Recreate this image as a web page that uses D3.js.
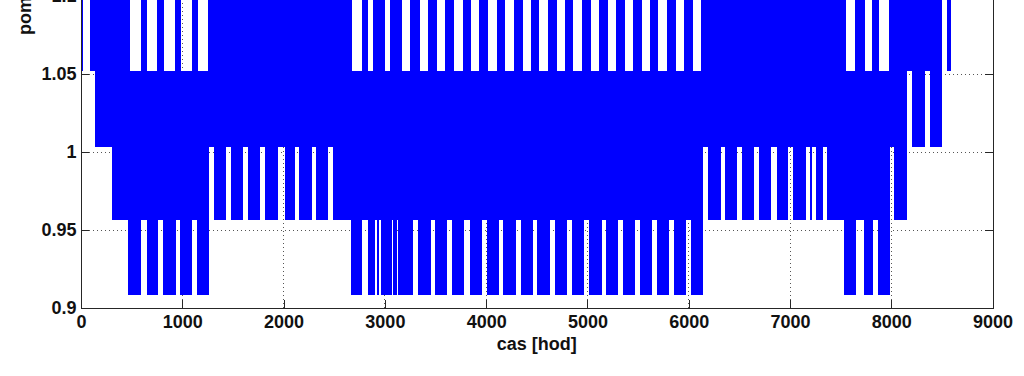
<!DOCTYPE html>
<html><head><meta charset="utf-8">
<script src="https://cdn.jsdelivr.net/npm/d3@7"></script>
<style>html,body{margin:0;padding:0;background:#fff;overflow:hidden}</style>
</head><body>
<svg id="c" width="1024" height="376"></svg>
<script>
// ---- data ----
// discrete ratio levels the hourly series steps between
const levels = [0.9083, 0.9563, 1.0033, 1.052, 1.15];
// hours [start, end] during which the series covers each band between two adjacent levels
const bandL3toTop = [[0,20],[89,484],[589,649],[753,822],[928,987],[1093,1158],[1257,2672],[2771,2836],[2885,3001],[3050,3166],[3248,3346],[3428,3511],[3593,3685],[3768,3850],[3932,4021],[4104,4186],[4274,4360],[4442,4524],[4607,4696],[4778,4860],[4949,5032],[5114,5199],[5281,5370],[5452,5535],[5617,5699],[5788,5874],[5956,6039],[6120,7552],[7641,7739],[7809,7882],[7976,8497],[8546,8588]];
const bandL2toL3 = [[138,8155],[8206,8332],[8381,8497]];
const bandL1toL2 = [[303,1266],[1313,1431],[1478,1602],[1652,1767],[1816,1948],[2014,2113],[2155,2277],[2320,2441],[2491,6137],[6192,6315],[6357,6479],[6528,6647],[6693,6811],[6868,6982],[7032,7157],[7196,7219],[7253,7322],[7367,7989],[8031,8155]];
const bandL0toL1 = [[467,589],[649,757],[812,935],[977,1099],[1148,1266],[2662,2777],[2830,2902],[2919,2945],[2959,3067],[3083,3117],[3126,3280],[3330,3452],[3495,3616],[3665,3781],[3840,3956],[4005,4126],[4169,4291],[4341,4459],[4504,4630],[4679,4795],[4844,4968],[5018,5140],[5183,5304],[5348,5469],[5518,5634],[5683,5805],[5854,5972],[6019,6137],[7532,7651],[7730,7821],[7871,7986]];
const xTicks = [0,1000,2000,3000,4000,5000,6000,7000,8000,9000];
const xTickLabels = ["0","1000","2000","3000","4000","5000","6000","7000","8000","9000"];
const yTicks = [0.9,0.95,1,1.05,1.1];
const yTickLabels = ["0.9","0.95","1","1.05","1.1"];
const xLabel = "cas [hod]";
const yLabel = "pomer [-]";

// ---- drawing ----
const svg = d3.select("#c");
const FONT = "'Liberation Sans', Arial, Helvetica, sans-serif";
const x = d3.scaleLinear([0, 9000], [81, 992.6]);
const y = d3.scaleLinear([0.9, 1.1], [308, -4]);

// grid
const grid = svg.append("g").attr("stroke", "#555").attr("stroke-width", 1)
  .attr("stroke-dasharray", "1,3").attr("shape-rendering", "crispEdges");
grid.selectAll(".gx").data(xTicks.filter(d => d > x.domain()[0] && d < x.domain()[1]))
  .join("line").attr("x1", d => x(d)).attr("x2", d => x(d))
  .attr("y1", y(0.9)).attr("y2", y(1.1));
grid.selectAll(".gy").data(yTicks.filter(d => d > 0.9))
  .join("line").attr("y1", d => y(d)).attr("y2", d => y(d))
  .attr("x1", x(0)).attr("x2", x(9000));

// data bands
const bands = [
  {lo: 0, hi: 1, spans: bandL0toL1},
  {lo: 1, hi: 2, spans: bandL1toL2},
  {lo: 2, hi: 3, spans: bandL2toL3},
  {lo: 3, hi: 4, spans: bandL3toTop}
];
const gData = svg.append("g").attr("fill", "#0000ff").attr("shape-rendering", "crispEdges");
bands.forEach(b => {
  gData.append("g").selectAll("rect").data(b.spans).join("rect")
    .attr("x", d => x(d[0]))
    .attr("width", d => x(d[1]) - x(d[0]))
    .attr("y", y(levels[b.hi]))
    .attr("height", y(levels[b.lo]) - y(levels[b.hi]));
});

// axes
function style(g) {
  g.attr("font-family", FONT).attr("font-size", 18).attr("font-weight", "bold");
  g.selectAll(".domain, .tick line").attr("stroke", "#262626").attr("shape-rendering", "crispEdges");
  g.selectAll("text").attr("fill", "#111");
}
svg.append("g").attr("transform", `translate(0,${y(0.9)})`)
  .call(d3.axisBottom(x).tickValues(xTicks).tickSize(-8).tickSizeOuter(0).tickPadding(7)
    .tickFormat((d, i) => xTickLabels[i]))
  .call(style);
svg.append("g").attr("transform", `translate(${x(0)},0)`)
  .call(d3.axisLeft(y).tickValues(yTicks).tickSize(-8).tickSizeOuter(0).tickPadding(4.5)
    .tickFormat((d, i) => yTickLabels[i]))
  .call(style);
svg.append("g").attr("transform", `translate(${x(9000)},0)`)
  .call(d3.axisRight(y).tickValues(yTicks).tickSize(-8).tickSizeOuter(0).tickFormat(""))
  .call(style);

// labels
svg.append("text").attr("x", (x(0) + x(9000)) / 2).attr("y", 350)
  .attr("text-anchor", "middle").attr("font-family", FONT).attr("font-size", 18)
  .attr("font-weight", "bold").attr("fill", "#111").text(xLabel);
svg.append("text").attr("transform", "translate(31,35) rotate(-90)")
  .attr("text-anchor", "start").attr("font-family", FONT).attr("font-size", 18)
  .attr("font-weight", "bold").attr("fill", "#111").text(yLabel);
</script>
</body></html>
